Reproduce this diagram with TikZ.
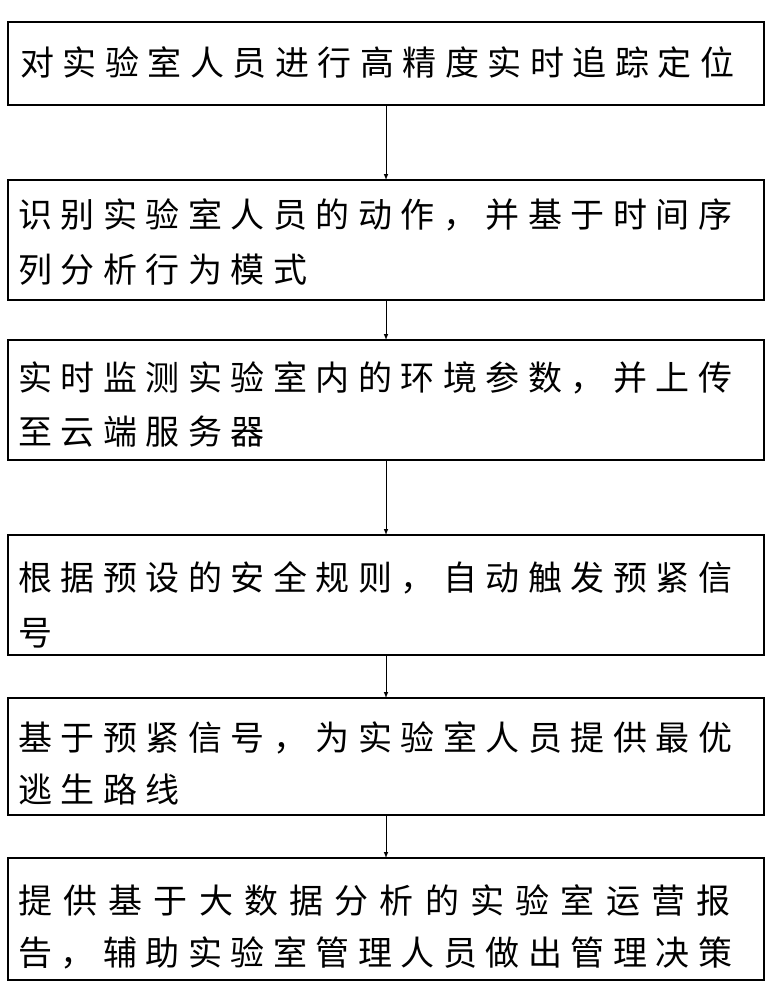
\documentclass[tikz,border=0pt]{standalone}
\usepackage{fontspec}
\newfontfamily\cjk[LetterSpace=25]{Noto Sans CJK SC}
\newfontfamily\cjkwide[LetterSpace=33]{Noto Sans CJK SC}
\begin{document}
\begin{tikzpicture}[x=1pt,y=-1pt,
  box/.style={draw,line width=1.2pt},
  ln/.style={anchor=west,inner sep=0pt,font=\cjk\fontsize{34}{40}\selectfont},
  arr/.style={-latex,line width=1pt}]
\useasboundingbox (0,0) rectangle (772,1000);
\draw[box] (8,22) rectangle (764,105); \coordinate (b1t) at (386,22); \coordinate (b1b) at (386,105);
\draw[box] (8,180) rectangle (764,300); \coordinate (b2t) at (386,180); \coordinate (b2b) at (386,300);
\draw[box] (8,340) rectangle (764,460); \coordinate (b3t) at (386,340); \coordinate (b3b) at (386,460);
\draw[box] (8,535) rectangle (764,655); \coordinate (b4t) at (386,535); \coordinate (b4b) at (386,655);
\draw[box] (8,698) rectangle (764,815); \coordinate (b5t) at (386,698); \coordinate (b5b) at (386,815);
\draw[box] (8,858) rectangle (764,980); \coordinate (b6t) at (386,858); \coordinate (b6b) at (386,980);
\node[ln] (t1) at (20,62) {对实验室人员进行高精度实时追踪定位};
\node[ln] (t2a) at (18,215) {识别实验室人员的动作，并基于时间序};
\node[ln] (t2b) at (18,270) {列分析行为模式};
\node[ln] (t3a) at (18,378) {实时监测实验室内的环境参数，并上传};
\node[ln] (t3b) at (18,432) {至云端服务器};
\node[ln] (t4a) at (18,578) {根据预设的安全规则，自动触发预紧信};
\node[ln] (t4b) at (18,633) {号};
\node[ln] (t5a) at (18,738) {基于预紧信号，为实验室人员提供最优};
\node[ln] (t5b) at (18,790) {逃生路线};
\node[ln,font=\cjkwide\fontsize{34}{40}\selectfont] (t6a) at (18,900) {提供基于大数据分析的实验室运营报};
\node[ln] (t6b) at (18,953) {告，辅助实验室管理人员做出管理决策};
\draw[arr] (b1b) -- (b2t);
\draw[arr] (b2b) -- (b3t);
\draw[arr] (b3b) -- (b4t);
\draw[arr] (b4b) -- (b5t);
\draw[arr] (b5b) -- (b6t);
\end{tikzpicture}
\end{document}
